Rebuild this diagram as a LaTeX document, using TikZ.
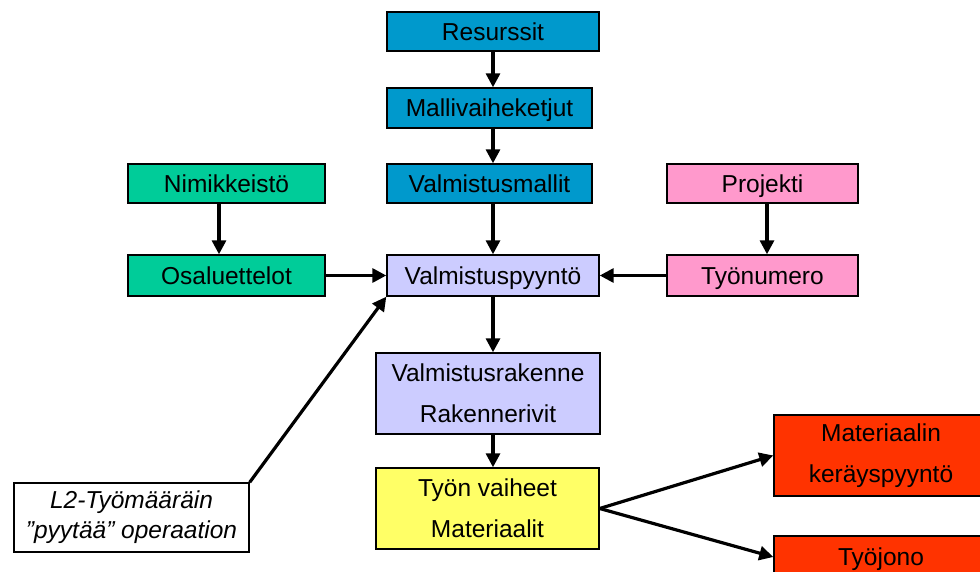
\documentclass[tikz,border=0pt]{standalone}
\usepackage{fontspec}
\setmainfont{Liberation Sans}
\usetikzlibrary{arrows.meta}
\definecolor{cblue}{RGB}{0,153,204}
\definecolor{cgreen}{RGB}{0,204,153}
\definecolor{cpink}{RGB}{255,153,204}
\definecolor{clav}{RGB}{204,204,255}
\definecolor{cyel}{RGB}{255,255,102}
\definecolor{cred}{RGB}{255,51,0}
\begin{document}
\begin{tikzpicture}[x=1pt,y=-1pt,
  box/.style={draw=black, line width=1.4pt, inner sep=0pt, align=center,
    font=\fontsize{24.5}{41}\selectfont},
  oneline/.style={text height=17.6pt, text depth=0pt},
  arr/.style={line width=3.2pt, -{Triangle[length=14pt,width=14pt]}}]
\useasboundingbox (0,0) rectangle (980,572);
\fill[white] (0,0) rectangle (980,572);
\node[box, oneline, fill=cblue, minimum width=212pt, minimum height=39pt] (res) at (493,31.5) {Resurssit};
\node[box, oneline, fill=cblue, minimum width=205pt, minimum height=40pt] (mal) at (489.5,108) {Mallivaiheketjut};
\node[box, oneline, fill=cblue, minimum width=205pt, minimum height=39pt] (vmal) at (489.5,183.5) {Valmistusmallit};
\node[box, oneline, fill=cgreen, minimum width=197pt, minimum height=39pt] (nim) at (226.5,183.5) {Nimikkeistö};
\node[box, oneline, fill=cpink, minimum width=191pt, minimum height=39pt] (proj) at (762.5,183.5) {Projekti};
\node[box, oneline, fill=cgreen, minimum width=197pt, minimum height=41pt] (osa) at (226.5,275.5) {Osaluettelot};
\node[box, oneline, fill=clav, minimum width=212pt, minimum height=41pt] (vpy) at (493,275.5) {Valmistuspyyntö};
\node[box, oneline, fill=cpink, minimum width=191pt, minimum height=41pt] (tyon) at (762.5,275.5) {Työnumero};
\node[box, fill=clav, minimum width=224pt, minimum height=81pt] (vrak) at (488,393.5) {Valmistusrakenne\\Rakennerivit};
\node[box, fill=cyel, minimum width=223pt, minimum height=81pt] (tvai) at (487.5,508.5) {Työn vaiheet\\Materiaalit};
\node[box, fill=white, minimum width=235pt, minimum height=69pt,
  font=\fontsize{24.5}{30}\selectfont\itshape] (l2) at (131.5,517.5) {L2-Työmääräin\\”pyytää” operaation};
\node[box, fill=cred, minimum width=214pt, minimum height=81pt] (mat) at (881,455.5) {Materiaalin\\keräyspyyntö};
\node[box, oneline, fill=cred, minimum width=214pt, minimum height=42pt] (tjo) at (881,557) {Työjono};
\draw[arr] (res.south) -- (res.south |- mal.north);
\draw[arr] (res.south |- mal.south) -- (res.south |- vmal.north);
\draw[arr] (vpy.north |- vmal.south) -- (vpy.north);
\draw[arr] ([xshift=-7.5pt]nim.south) -- ([xshift=-7.5pt]osa.north);
\draw[arr] ([xshift=4.5pt]proj.south) -- ([xshift=4.5pt]tyon.north);
\draw[arr] (osa.east) -- (vpy.west);
\draw[arr] (tyon.west) -- (vpy.east);
\draw[arr] (vpy.south) -- (vpy.south |- vrak.north);
\draw[arr] (vpy.south |- vrak.south) -- (vpy.south |- tvai.north);
\draw[arr] (l2.north east) -- (vpy.south west);
\draw[arr] (tvai.east) -- (mat.west);
\draw[arr] (tvai.east) -- (tjo.west);
\end{tikzpicture}
\end{document}
